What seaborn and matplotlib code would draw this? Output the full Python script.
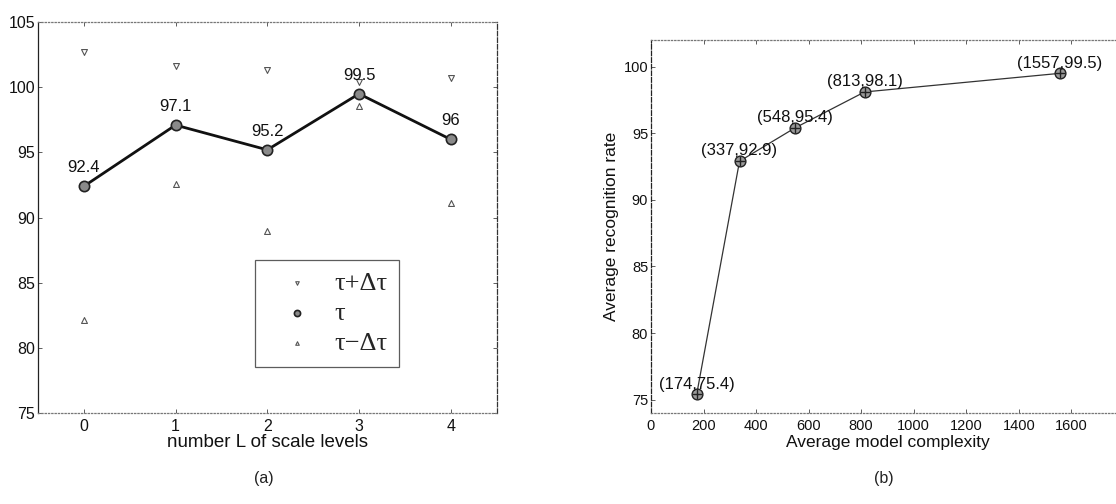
import matplotlib
matplotlib.use("Agg")
import matplotlib.pyplot as plt
import seaborn as sns

# ---------------- data ----------------
levels = [0, 1, 2, 3, 4]
tau = [92.4, 97.1, 95.2, 99.5, 96.0]
tau_plus = [102.7, 101.6, 101.3, 100.4, 100.7]
tau_minus = [82.1, 92.6, 89.0, 98.6, 91.1]
tau_labels = ["92.4", "97.1", "95.2", "99.5", "96"]

complexity = [174, 337, 548, 813, 1557]
rate = [75.4, 92.9, 95.4, 98.1, 99.5]
point_labels = ["(174,75.4)", "(337,92.9)", "(548,95.4)", "(813,98.1)", "(1557,99.5)"]

a_yticks = [75, 80, 85, 90, 95, 100, 105]
b_yticks = [75, 80, 85, 90, 95, 100]
b_xticks = [0, 200, 400, 600, 800, 1000, 1200, 1400, 1600]

# ---------------- style ----------------
sns.set_style("white")
plt.rcParams["font.family"] = ["Liberation Sans", "DejaVu Sans"]

fig = plt.figure(figsize=(11.16, 5.04), dpi=100)
ax1 = fig.add_axes([0.034, 0.1806, 0.411, 0.7754])
ax2 = fig.add_axes([0.5833, 0.1806, 0.4238, 0.740])


def matlab_frame(ax):
    for side in ["top", "bottom"]:
        ax.spines[side].set_linestyle(":")
        ax.spines[side].set_color("#777777")
        ax.spines[side].set_linewidth(0.9)
    ax.spines["left"].set_color("#222222")
    ax.spines["left"].set_linewidth(0.9)
    ax.spines["right"].set_color("#333333")
    ax.spines["right"].set_linestyle("--")
    ax.spines["right"].set_linewidth(0.9)
    ax.tick_params(direction="in", length=3, width=0.6, color="#444444",
                   top=True, right=True, bottom=True, left=True, pad=2)
    ax.tick_params(axis="x", pad=4.5)


# ---------------- panel (a) ----------------
sns.lineplot(x=levels, y=tau, ax=ax1, color="#111111", linewidth=2.0,
             sort=False, estimator=None, legend=False)
sns.scatterplot(x=levels, y=tau_plus, ax=ax1, marker="v", s=18,
                facecolor="white", edgecolor="#555555", linewidth=0.8,
                label="τ+Δτ", zorder=3)
sns.scatterplot(x=levels, y=tau, ax=ax1, marker="o", s=55,
                facecolor="#8a8a8a", edgecolor="#222222", linewidth=1.2,
                label="τ", zorder=4)
sns.scatterplot(x=levels, y=tau_minus, ax=ax1, marker="^", s=18,
                facecolor="white", edgecolor="#555555", linewidth=0.8,
                label="τ−Δτ", zorder=3)
for xv, yv, lab in zip(levels, tau, tau_labels):
    ax1.annotate(lab, (xv, yv), xytext=(0, 8), textcoords="offset points",
                 ha="center", va="bottom", fontsize=12, color="#111111")

ax1.set_xlim(-0.5, 4.5)
ax1.set_ylim(75, 105)
ax1.set_xticks(levels)
ax1.set_yticks(a_yticks)
ax1.tick_params(labelsize=11.5, labelcolor="#111111")
ax1.set_xlabel("number L of scale levels", fontsize=13.5, color="#111111", labelpad=0)
matlab_frame(ax1)

handles, labels = ax1.get_legend_handles_labels()
leg = ax1.legend(handles, labels, loc="upper left", bbox_to_anchor=(0.473, 0.392),
                 frameon=True, fancybox=False, edgecolor="#333333",
                 prop={"family": ["Liberation Serif", "DejaVu Serif"], "size": 19},
                 handlelength=2.3, handletextpad=0.25, borderpad=0.45,
                 labelspacing=0.25, markerscale=0.6, borderaxespad=0)
leg.get_frame().set_linewidth(0.9)

fig.text(0.236, 0.05, "(a)", ha="center", va="center", fontsize=11.5, color="#222222")

# ---------------- panel (b) ----------------
sns.lineplot(x=complexity, y=rate, ax=ax2, color="#333333", linewidth=0.9,
             sort=False, estimator=None, legend=False)
sns.scatterplot(x=complexity, y=rate, ax=ax2, marker="o", s=60,
                facecolor="#9a9a9a", edgecolor="#222222", linewidth=1.0, zorder=3)
sns.scatterplot(x=complexity, y=rate, ax=ax2, marker="+", s=50,
                color="#222222", linewidth=1.0, zorder=4)
for xv, yv, lab in zip(complexity, rate, point_labels):
    ax2.annotate(lab, (xv, yv), xytext=(0, 2), textcoords="offset points",
                 ha="center", va="bottom", fontsize=12, color="#111111",
                 annotation_clip=False)

ax2.set_xlim(0, 1800)
ax2.set_ylim(74, 102)
ax2.set_xticks(b_xticks)
ax2.set_yticks(b_yticks)
ax2.tick_params(labelsize=10.5, labelcolor="#111111")
ax2.set_xlabel("Average model complexity", fontsize=12.5, color="#111111", labelpad=1)
ax2.set_ylabel("Average recognition rate", fontsize=12.5, color="#111111", labelpad=3)
matlab_frame(ax2)
ax2.spines["left"].set_linestyle("--")

fig.text(0.792, 0.05, "(b)", ha="center", va="center", fontsize=11.5, color="#222222")

fig.savefig("out.png", dpi=100, facecolor="white")
